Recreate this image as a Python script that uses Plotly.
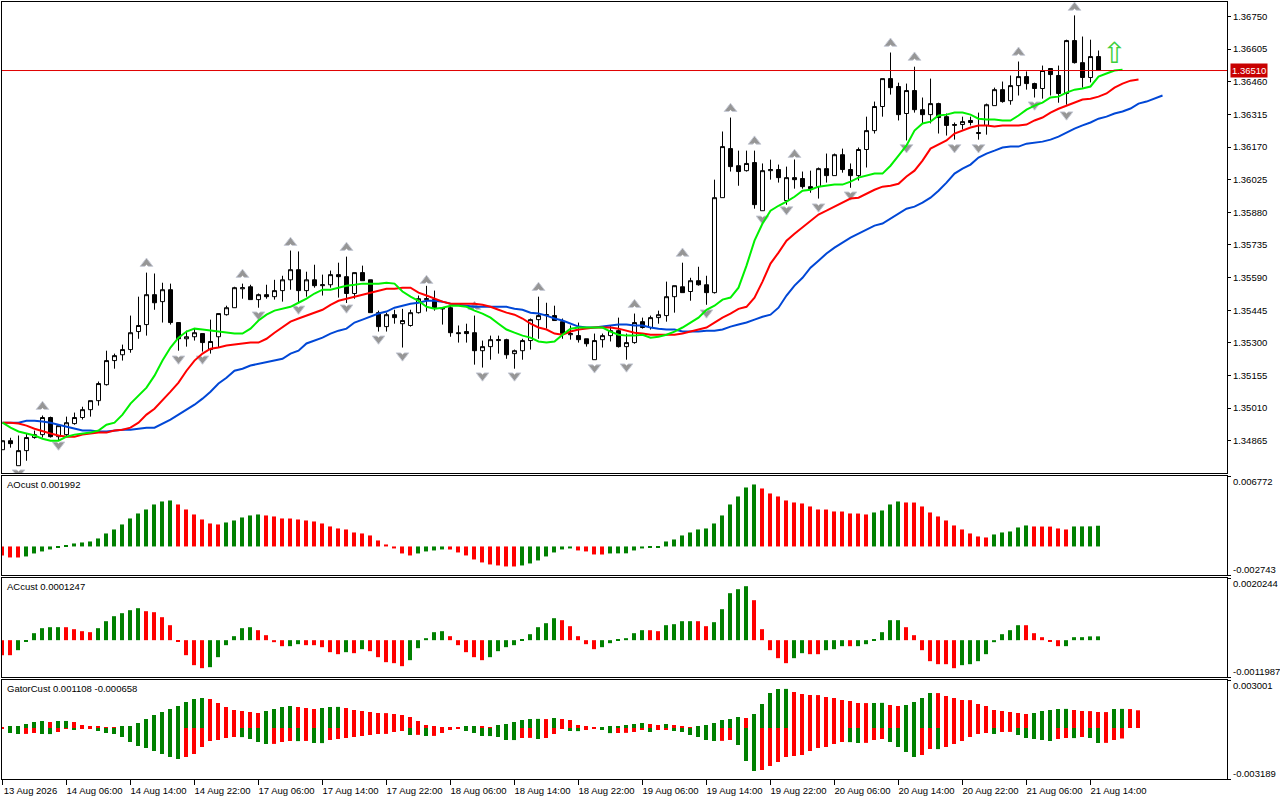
import numpy as np
import plotly.graph_objects as go
from plotly.subplots import make_subplots

# prices are in 1e-5 points, indicators in the units noted below
OPEN = [
    134825,134865,134754,134821,134879,134892,134968,134883,134892,134941,
    134968,135003,135043,135114,135221,135247,135270,135350,135381,135514,
    135483,135536,135390,135318,135327,135341,135270,135327,135425,135456,
    135540,135549,135492,135514,135505,135532,135580,135625,135532,135580,
    135554,135558,135603,135594,135519,135612,135580,135434,135372,135425,
    135385,135377,135434,135492,135492,135456,135456,135345,135350,135345,
    135265,135283,135310,135314,135252,135265,135310,135403,135421,135421,
    135394,135336,135332,135318,135225,135314,135332,135354,135283,135301,
    135394,135368,135412,135421,135505,135549,135528,135576,135558,135523,
    135945,136163,136087,136065,136101,135887,136065,136070,135932,136034,
    136030,135994,135994,136074,136043,136136,136070,136043,136159,136243,
    136350,136474,136439,136319,136421,136336,136314,136363,136305,136266,
    136270,136288,136230,136266,136354,136425,136376,136443,136483,136452,
    136430,136519,136488,136408,136643,136545,136479,136572]
HIGH = [
    134865,134878,134888,134897,134910,134977,134972,134932,134972,134990,
    135016,135043,135128,135265,135252,135292,135421,135505,135612,135608,
    135567,135563,135390,135354,135363,135341,135403,135430,135465,135549,
    135563,135558,135519,135558,135580,135598,135710,135706,135616,135647,
    135603,135621,135656,135683,135612,135643,135580,135443,135434,135447,
    135451,135447,135510,135554,135532,135456,135465,135377,135385,135421,
    135310,135332,135332,135318,135270,135318,135408,135505,135478,135465,
    135408,135377,135390,135318,135341,135341,135377,135412,135341,135430,
    135412,135421,135443,135572,135554,135656,135589,135638,135598,136025,
    136239,136301,136154,136154,136154,136097,136114,136092,136083,136119,
    136061,136065,136079,136141,136141,136163,136097,136168,136305,136372,
    136474,136590,136456,136452,136527,136390,136474,136367,136319,136279,
    136305,136305,136323,136363,136434,136461,136488,136550,136506,136456,
    136532,136519,136532,136647,136755,136661,136647,136599]
LOW = [
    134825,134834,134754,134776,134874,134879,134879,134865,134883,134936,
    134959,134972,135021,135110,135185,135221,135256,135318,135332,135447,
    135390,135381,135265,135283,135310,135261,135252,135279,135421,135456,
    135496,135492,135456,135496,135492,135483,135536,135478,135505,135545,
    135510,135545,135501,135469,135496,135576,135434,135350,135350,135385,
    135279,135372,135430,135439,135443,135381,135327,135301,135301,135203,
    135190,135225,135252,135229,135185,135225,135270,135318,135363,135399,
    135318,135314,135301,135283,135225,135279,135306,135279,135225,135296,
    135363,135359,135385,135394,135434,135523,135487,135554,135469,135519,
    135945,136061,135998,136061,135896,135887,136025,136012,135896,135985,
    135985,135967,135941,136012,136043,136056,135989,136021,136079,136230,
    136305,136403,136288,136199,136323,136275,136275,136230,136221,136203,
    136248,136266,136203,136225,136354,136367,136358,136399,136425,136390,
    136385,136399,136367,136358,136541,136434,136457,136510]
CLOSE = [
    134865,134852,134821,134879,134892,134968,134883,134932,134945,134968,
    135003,135043,135119,135221,135243,135270,135345,135377,135514,135478,
    135536,135390,135318,135327,135345,135301,135306,135430,135456,135545,
    135545,135492,135514,135505,135532,135580,135625,135532,135580,135554,
    135558,135603,135594,135519,135612,135576,135434,135372,135425,135412,
    135399,135434,135496,135496,135456,135451,135345,135341,135341,135265,
    135283,135314,135314,135247,135265,135310,135403,135421,135425,135399,
    135341,135341,135314,135296,135310,135332,135354,135283,135301,135390,
    135368,135412,135425,135505,135554,135523,135576,135558,135523,135945,
    136172,136083,136061,136097,135914,136065,136070,136034,136034,136025,
    135994,135985,136074,136043,136136,136070,136043,136159,136243,136350,
    136474,136434,136314,136421,136336,136314,136363,136301,136266,136270,
    136283,136279,136234,136358,136425,136372,136443,136483,136452,136430,
    136510,136492,136408,136643,136545,136479,136572,136510]

MA_FAST = [
    134945,134923,134906,134897,134888,134874,134865,134865,134883,134892,
    134897,134901,134910,134936,134945,134981,135030,135065,135101,135154,
    135221,135279,135323,135350,135363,135359,135354,135350,135345,135341,
    135341,135363,135399,135425,135443,135451,135460,135478,
    135496,135519,135536,135536,135545,135554,135558,135563,135563,135563,
    135567,135563,135528,135505,135487,135460,135451,135456,135465,135465,
    135460,135443,135430,135412,135385,135359,135345,135332,135323,135306,
    135301,135306,
    135336,135363,135368,135368,135368,135368,135350,135336,135332,135332,
    135336,135323,135327,135336,135350,135368,135390,135412,135447,135465,
    135492,135501,135545,135643,135754,135830,135887,135909,135927,135949,
    135976,135980,135994,135998,136003,136003,136016,136034,
    136043,136052,136052,136087,136132,136177,136243,136275,136283,136310,
    136314,136323,136323,136314,136296,136292,136292,136288,136288,136310,
    136336,136354,136367,136390,136394,136412,136425,136430,136439,136483,
    136497,136510,136514]
MA_MID = [
    134945,134945,134941,134932,134918,134906,134897,134888,134883,134883,
    134892,134897,134901,134901,134910,134914,134923,134945,134981,135007,
    135043,135083,135123,135176,135221,135252,135274,135279,135288,135292,
    135296,135301,135301,135318,135345,135368,135394,135408,
    135421,135434,135447,135469,135487,135496,135505,135514,135523,135532,
    135540,135540,135545,135545,135523,135510,135496,135483,135474,135474,
    135474,135474,135469,135460,135447,135434,135425,135408,135385,135368,
    135359,135341,
    135336,135350,135359,135363,135368,135368,135368,135363,135354,135345,
    135341,135336,135336,135336,135336,135341,135350,135359,135368,135390,
    135412,135430,135451,135460,135501,135572,135652,135701,135754,135785,
    135812,135843,135870,135887,135905,135923,135941,135945,
    135963,135980,135994,135998,136007,136039,136065,136110,136163,136181,
    136199,136230,136243,136257,136266,136266,136261,136266,136266,136266,
    136270,136288,136301,136323,136340,136354,136367,136381,136385,136394,
    136408,136434,136452,136465,136470]
MA_SLOW = [
    134945,134945,134945,134954,134954,134950,134945,134936,134927,134918,
    134910,134910,134906,134906,134910,134914,134914,134918,134923,134923,
    134941,134959,134981,135003,135025,135052,135083,135119,135145,135176,
    135185,135199,135207,135212,135221,135229,135252,135265,
    135297,135310,135323,135341,135354,135363,135390,135403,135416,135430,
    135439,135456,135465,135474,135478,135487,135487,135483,135474,135469,
    135465,135460,135460,135460,135460,135460,135451,135447,135434,135430,
    135421,135408,
    135399,135385,135372,135368,135368,135372,135377,135381,135381,135377,
    135377,135368,135363,135359,135359,135350,135350,135350,135354,135354,
    135359,135372,135381,135390,135403,135416,135425,135456,135510,135554,
    135589,135634,135665,135697,135723,135745,135767,135785,
    135803,135821,135830,135852,135874,135896,135905,135923,135945,135976,
    136012,136052,136074,136092,136123,136141,136154,136168,136172,136172,
    136185,136190,136194,136203,136216,136234,136252,136266,136279,136296,
    136305,136319,136328,136341,136363,136372,136385,136399]

FRACTAL_UP_BAR = [5,18,30,36,43,53,59,67,79,85,91,94,99,111,114,127,134]
FRACTAL_UP_PRICE = [135016,135652,135603,135745,135723,135576,135460,135545,135469,
                    135697,136340,136195,136136,136630,136568,136590,136790]
FRACTAL_DOWN_BAR = [2,7,22,25,32,37,43,47,50,60,64,74,78,88,95,98,102,106,113,119,122,129,133]
FRACTAL_DOWN_PRICE = [134723,134847,135229,135229,135425,135451,135456,135318,135243,
                      135154,135154,135190,135194,135434,135851,135892,135905,135958,
                      136168,136168,136168,136358,136314]
SIGNAL_BAR = [139]
SIGNAL_PRICE = [136577]
LAST_PRICE = 1.36510

# AO in 1e-6
AO = [
    -865,-1057,-1060,-961,-673,-480,-288,-96,64,288,384,480,769,1249,1634,2114,2691,3171,3555,4036,
    4324,4420,4036,3555,3075,2594,2210,2114,2306,2498,2787,2979,3075,2979,2883,2691,2685,2594,2498,2402,
    2210,1922,1730,1634,1345,1249,1057,577,192,-192,-673,-865,-673,-480,-384,-288,-295,-577,-865,-1249,
    -1537,-1730,-1826,-1922,-1925,-1826,-1634,-1345,-961,-577,-288,-192,-384,-480,-769,-775,-673,-665,-660,-384,
    -192,-96,-90,480,673,1057,1345,1634,1730,2210,2979,4036,4805,5669,5958,5573,5093,4805,4420,4228,
    4132,3844,3555,3550,3363,3358,3171,3165,3075,3267,3459,4036,4324,4228,4222,3844,3267,2883,2498,2018,
    1634,1249,961,865,1153,1345,1441,1826,2018,1922,1916,1910,1730,1634,1922,1928,1934,1992]

# AC in 1e-7
AC = [
    -4882,-4890,-3255,-542,2278,3906,4231,4240,4225,3580,2930,2604,3906,6184,7812,8788,9765,10416,9440,9114,
    7486,4882,-325,-4882,-8137,-9114,-8788,-5533,-1627,1302,3906,4231,3255,1627,-651,-1953,-1945,-1302,-1627,-1635,
    -2278,-3906,-4557,-3906,-4231,-2929,-3580,-5533,-7161,-7486,-8463,-6510,-2604,651,2604,2929,1302,-1627,-3906,-5533,
    -6510,-5533,-3580,-2278,-1627,325,1953,4231,5533,7161,6510,4557,1302,-1302,-2929,-2278,-976,325,651,2278,
    3255,3247,2929,4882,5208,6184,6190,6178,4557,5859,10090,15298,16600,17577,13020,3580,-3255,-5859,-7486,-5859,
    -4231,-4557,-4565,-3255,-2929,-1953,-1960,-1950,-1302,325,2604,6510,6516,4231,1627,-3255,-6835,-7812,-7820,-9114,
    -8137,-7812,-6835,-4557,-651,1953,3255,4882,4875,2278,976,-325,-1953,-1945,976,982,1240,1247]

# Gator in 1e-6, upper jaw/teeth and lower teeth/lips sizes
GATOR_UP = [
    21,63,66,250,375,438,375,438,440,375,188,125,63,60,10,63,125,313,563,813,
    1001,1188,1376,1626,1814,1877,1814,1564,1314,1126,1063,1001,938,1063,1188,1314,1376,1314,1251,1188,
    1251,1314,1320,1251,1126,1063,1001,938,930,876,813,688,438,188,63,20,10,5,63,125,
    63,5,188,250,375,500,563,570,560,626,563,500,188,63,10,21,63,125,188,250,
    313,250,188,250,188,125,5,63,188,313,500,563,688,626,876,1501,2189,2439,2445,2252,
    2127,2064,2058,1939,1877,1751,1689,1564,1558,1565,1572,1439,1376,1439,1626,1877,2189,2183,2002,1877,
    1751,1745,1501,1376,1126,1063,1001,938,876,938,1063,1126,1188,1195,1126,1063,1057,1001,995,1188,
    1195,1185,1108]
GATOR_DOWN = [
    21,313,375,370,313,375,380,250,63,125,63,40,188,313,375,563,876,1126,1251,1439,
    1626,1814,1939,1814,1626,1188,813,751,626,563,570,688,876,1001,995,876,813,820,810,938,
    945,751,688,626,563,500,438,375,370,250,188,438,430,500,495,313,125,63,188,313,
    500,505,563,751,755,626,620,688,626,375,63,188,195,125,40,125,320,313,305,250,
    125,250,125,120,188,250,438,563,751,813,805,751,1063,2064,2690,2627,2377,2127,1814,1751,
    1689,1439,1251,1188,1001,876,883,938,930,751,688,876,1188,1501,1814,1689,1314,1320,1188,1001,
    813,563,375,313,375,250,245,438,626,688,751,813,688,626,632,563,626,938,930,751,
    658]

TIME_LABELS = ["13 Aug 2026","14 Aug 06:00","14 Aug 14:00","14 Aug 22:00","17 Aug 06:00","17 Aug 14:00",
               "17 Aug 22:00","18 Aug 06:00","18 Aug 14:00","18 Aug 22:00","19 Aug 06:00","19 Aug 14:00",
               "19 Aug 22:00","20 Aug 06:00","20 Aug 14:00","20 Aug 22:00","21 Aug 06:00","21 Aug 14:00"]
TIME_BARS = [0,8,16,24,32,40,48,56,64,72,80,88,96,104,112,120,128,136]
PRICE_TICKS = [1.36750,1.36605,1.36460,1.36315,1.36170,1.36025,1.35880,1.35735,1.35590,1.35445,1.35300,1.35155,1.35010,1.34865]

AO_RANGE = [-0.002743, 0.006772]
AC_RANGE = [-0.0011987, 0.0020244]
GATOR_RANGE = [-0.003189, 0.003001]
PRICE_RANGE = [1.347215, 1.368145]
X_RANGE = [-0.0625, 153.06]
NOTCH = 0.000155

W, H = 1280, 800
FONT = "Liberation Sans, sans-serif"
FONT_SIZE = 9.5
GREEN = "#008000"
RED = "#ff0000"


def direction_colors(values):
    # MT style histogram: green when the bar grew on the previous one, otherwise red
    colors = [RED]
    for prev, cur in zip(values, values[1:]):
        colors.append(GREEN if cur > prev else RED)
    return colors


def ydomain(top, bottom):
    return [1 - bottom / H, 1 - top / H]


def histogram(values, colors):
    # 0.5 bar is 4px, the offset lines the columns up a little left of the candle centre
    return go.Bar(x=list(range(len(values))), y=values, width=0.5, offset=-0.3125,
                  marker=dict(color=colors, line=dict(width=0)))


def prices(values):
    return np.array(values) / 1e5


fig = make_subplots(rows=4, cols=1, shared_xaxes=True, vertical_spacing=0.01)

# fractal arrows go under the candles: grey head with a white notch cut out of the base
for bars, levels, symbol, notch in [(FRACTAL_UP_BAR, FRACTAL_UP_PRICE, "triangle-up", -NOTCH),
                                    (FRACTAL_DOWN_BAR, FRACTAL_DOWN_PRICE, "triangle-down", NOTCH)]:
    fig.add_trace(go.Scatter(x=bars, y=prices(levels), mode="markers",
                             marker=dict(symbol=symbol, size=11, color="#969696",
                                         line=dict(color="#c8ccd8", width=1))), row=1, col=1)
    fig.add_trace(go.Scatter(x=bars, y=prices(levels) + notch, mode="markers",
                             marker=dict(symbol=symbol, size=5, color="white", line=dict(width=0))),
                  row=1, col=1)

fig.add_trace(go.Candlestick(
    x=list(range(len(OPEN))), open=prices(OPEN), high=prices(HIGH), low=prices(LOW), close=prices(CLOSE),
    whiskerwidth=0,
    increasing=dict(fillcolor="white", line=dict(color="black", width=1)),
    decreasing=dict(fillcolor="black", line=dict(color="black", width=1)),
), row=1, col=1)

for values, color in [(MA_SLOW, "#0047d6"), (MA_MID, "#ff0000"), (MA_FAST, "#00f000")]:
    fig.add_trace(go.Scatter(x=list(range(len(values))), y=prices(values), mode="lines",
                             line=dict(color=color, width=2)), row=1, col=1)

fig.add_trace(go.Scatter(x=SIGNAL_BAR, y=prices(SIGNAL_PRICE), mode="text", text=["\u21e7"],
                         textfont=dict(family="DejaVu Sans", size=29, color="#3ccf3c")), row=1, col=1)

ao = np.array(AO) / 1e6
ac = np.array(AC) / 1e7
gator_up = np.array(GATOR_UP) / 1e6
gator_down = -np.array(GATOR_DOWN) / 1e6

fig.add_trace(histogram(ao, direction_colors(AO)), row=2, col=1)
fig.add_trace(histogram(ac, direction_colors(AC)), row=3, col=1)
fig.add_trace(histogram(gator_up, direction_colors(GATOR_UP)), row=4, col=1)
fig.add_trace(histogram(gator_down, direction_colors(GATOR_DOWN)), row=4, col=1)

fig.update_xaxes(range=X_RANGE, type="linear", rangeslider_visible=False, showgrid=False, zeroline=False,
                 showline=True, mirror=True, linecolor="black", linewidth=1, ticks="",
                 domain=[2 / W, 1227 / W])
fig.update_xaxes(row=4, col=1, tickmode="array", tickvals=TIME_BARS, ticktext=TIME_LABELS, ticks="outside",
                 ticklen=5, tickcolor="black", showticklabels=True, ticklabelshift=28, ticklabelstandoff=-2,
                 tickangle=0, tickfont=dict(family=FONT, size=FONT_SIZE, color="black"))
fig.update_yaxes(side="right", showgrid=False, zeroline=False, showline=True, mirror=True, linecolor="black",
                 linewidth=1, ticks="outside", ticklen=3, tickcolor="black",
                 tickfont=dict(family=FONT, size=FONT_SIZE, color="black"))
fig.update_yaxes(row=1, col=1, domain=ydomain(2, 473), range=PRICE_RANGE, tickmode="array", tickvals=PRICE_TICKS,
                 ticktext=[f"{t:.5f}" for t in PRICE_TICKS])
fig.update_yaxes(row=2, col=1, domain=ydomain(476, 575), range=AO_RANGE, tickmode="array", tickvals=AO_RANGE,
                 showticklabels=False)
fig.update_yaxes(row=3, col=1, domain=ydomain(578, 677), range=AC_RANGE, tickmode="array", tickvals=AC_RANGE,
                 showticklabels=False)
fig.update_yaxes(row=4, col=1, domain=ydomain(680, 779), range=GATOR_RANGE, tickmode="array", tickvals=GATOR_RANGE,
                 showticklabels=False)

fig.add_shape(type="line", xref="x domain", yref="y", x0=0, x1=1, y0=LAST_PRICE, y1=LAST_PRICE,
              line=dict(color="#e00000", width=1))
fig.add_annotation(xref="paper", yref="y", x=1230 / W, y=LAST_PRICE, xanchor="left", yanchor="middle",
                   text=f"{LAST_PRICE:.5f}", showarrow=False, bgcolor="#c80000", borderpad=1,
                   font=dict(family=FONT, size=FONT_SIZE, color="white"))

# indicator scale labels sit inside the panel height, tick marks stay on the ends
panel_labels = [("y2", AO_RANGE, "{:.6f}"), ("y3", AC_RANGE, "{:.7f}"), ("y4", GATOR_RANGE, "{:.6f}")]
for yref, rng, fmt in panel_labels:
    fig.add_annotation(xref="paper", yref=yref, x=1232 / W, y=rng[1], yshift=-5, xanchor="left", yanchor="middle",
                       text=fmt.format(rng[1]), showarrow=False, borderpad=0,
                       font=dict(family=FONT, size=FONT_SIZE, color="black"))
    fig.add_annotation(xref="paper", yref=yref, x=1232 / W, y=rng[0], yshift=6, xanchor="left", yanchor="middle",
                       text=fmt.format(rng[0]), showarrow=False, borderpad=0,
                       font=dict(family=FONT, size=FONT_SIZE, color="black"))

for top, text in [(484, "AOcust 0.001992"), (586, "ACcust 0.0001247"), (688, "GatorCust 0.001108 -0.000658")]:
    fig.add_annotation(xref="paper", yref="paper", x=6 / W, y=1 - top / H, xanchor="left", yanchor="middle",
                       text=text, showarrow=False, borderpad=0, font=dict(family=FONT, size=FONT_SIZE, color="black"))

fig.update_layout(width=W, height=H, margin=dict(l=0, r=0, t=0, b=0), showlegend=False, barmode="overlay",
                  boxgap=0.5, boxgroupgap=0, plot_bgcolor="white", paper_bgcolor="white", hovermode=False)

fig.write_html("out.html", config={"displayModeBar": False}, post_script="document.body.style.margin = '0';")
